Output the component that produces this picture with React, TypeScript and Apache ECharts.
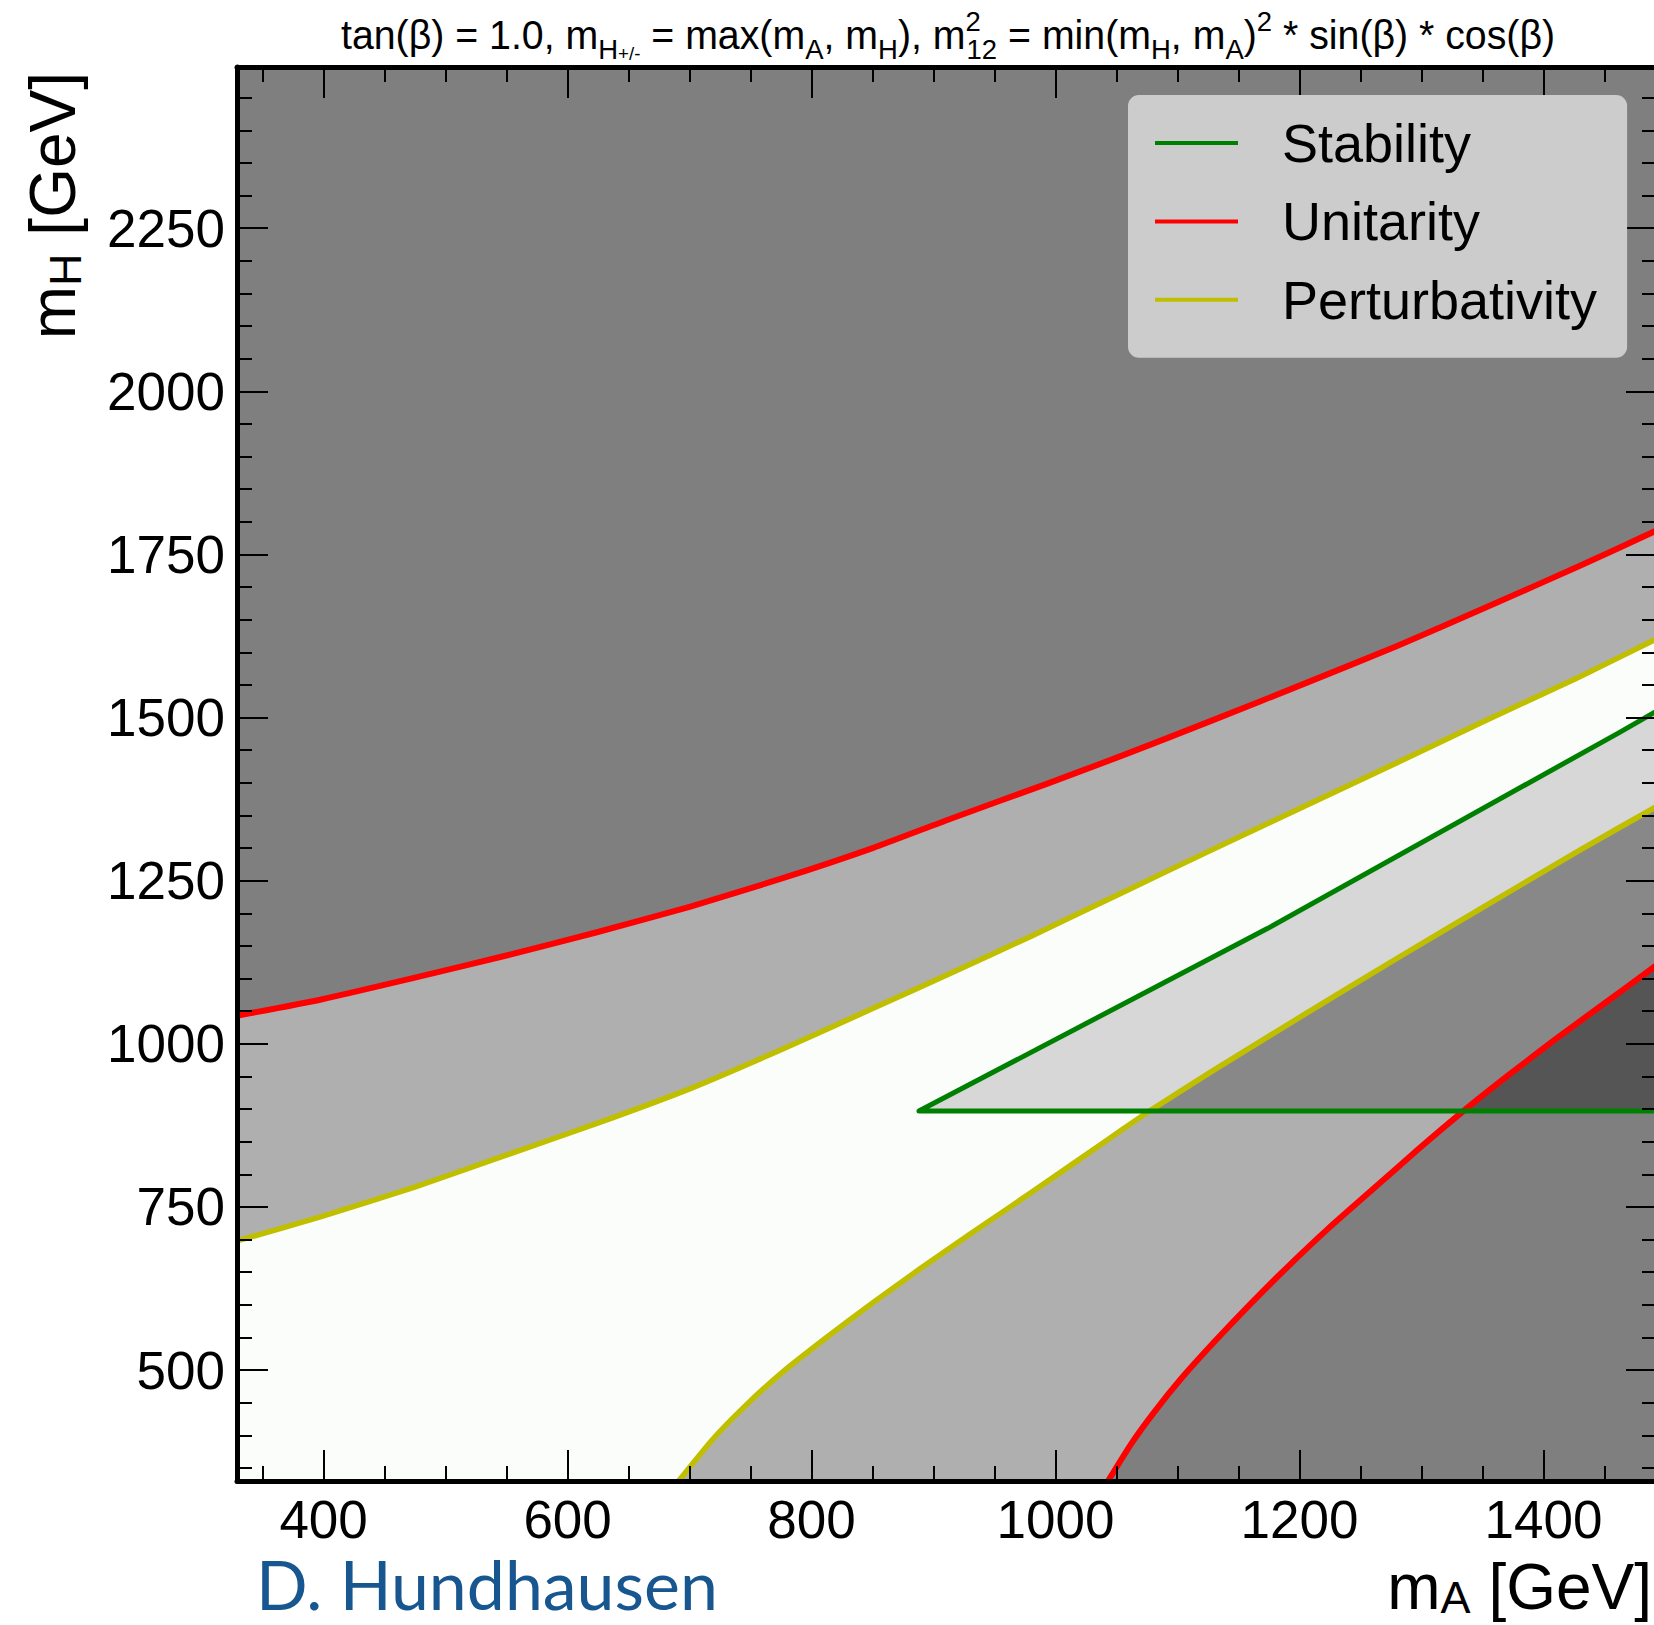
import React, { useEffect, useRef } from "react";
import * as echarts from "echarts";

// ---------------- axis ranges / ticks (GeV) ----------------
const X_MIN = 329;
const X_MAX = 1493;
const Y_MIN = 330;
const Y_MAX = 2497;

const xMajorTicks = [400, 600, 800, 1000, 1200, 1400];
const xMinorTicks = [350, 450, 500, 550, 650, 700, 750, 850, 900, 950, 1050, 1100, 1150, 1250, 1300, 1350, 1450];
const yMajorTicks = [500, 750, 1000, 1250, 1500, 1750, 2000, 2250];
const yMinorTicks = [
  350, 400, 450, 550, 600, 650, 700, 800, 850, 900, 950, 1050, 1100, 1150, 1200, 1300, 1350, 1400, 1450,
  1550, 1600, 1650, 1700, 1800, 1850, 1900, 1950, 2050, 2100, 2150, 2200, 2300, 2350, 2400, 2450,
];

// ---------------- constraint contours (m_A, m_H) ----------------
const unitarityUpperX = [329, 398, 474, 549, 624, 700, 775, 850, 914, 995, 1055, 1129, 1204, 1279, 1353, 1428, 1493];
const unitarityUpperY = [1043, 1068, 1101, 1135, 1171, 1210, 1253, 1300, 1345, 1400, 1442, 1496, 1552, 1609, 1669, 1731, 1787];

const unitarityLowerX = [1043, 1062, 1081, 1103, 1129, 1159, 1189, 1223, 1260, 1297, 1335, 1372, 1409, 1447, 1493];
const unitarityLowerY = [330, 387, 436, 487, 541, 600, 656, 716, 777, 838, 898, 953, 1006, 1058, 1121];

const perturbativityUpperX = [329, 398, 474, 549, 624, 700, 775, 850, 914, 980, 1055, 1129, 1204, 1279, 1353, 1428, 1493];
const perturbativityUpperY = [698, 735, 780, 829, 878, 931, 991, 1054, 1108, 1165, 1232, 1298, 1364, 1430, 1496, 1561, 1621];

const perturbativityLowerX = [691, 719, 745, 775, 813, 850, 888, 914, 943, 980, 1018, 1055, 1077, 1130, 1204, 1279, 1353, 1428, 1493];
const perturbativityLowerY = [330, 394, 444, 495, 551, 603, 654, 688, 725, 772, 821, 869, 897, 960, 1045, 1130, 1212, 1295, 1364];

// stability boundary: horizontal edge from the right, apex, then the diagonal
const stabilityX = [1493, 888, 1174, 1462, 1493];
const stabilityY = [897, 897, 1177, 1477, 1510];

const legendNames = ["Stability", "Unitarity", "Perturbativity"];

// ---------------- styling ----------------
const FONT = "'Liberation Sans', Arial, Helvetica, sans-serif";
const C_UNIT_EXCL = "#7f7f7f";
const C_PERT_EXCL = "#afafaf";
const C_ALLOWED = "#fbfdfb";
const C_STAB_ALL = "#555555";
const C_STAB_PERT = "#888888";
const C_STAB_ONLY = "#d7d7d7";
const RED = "#ff0000";
const YELLOW = "#bfbf00";
const GREEN = "#008000";

const zip = (xs: number[], ys: number[]) => xs.map((x, i) => [x, ys[i]]);

function clipPoly(subject: number[][], clip: number[][]): number[][] {
  let area = 0;
  for (let i = 0; i < clip.length; i++) {
    const a = clip[i];
    const b = clip[(i + 1) % clip.length];
    area += a[0] * b[1] - b[0] * a[1];
  }
  const s = area > 0 ? 1 : -1;
  let out = subject;
  for (let i = 0; i < clip.length; i++) {
    const a = clip[i];
    const b = clip[(i + 1) % clip.length];
    const side = (p: number[]) => s * ((b[0] - a[0]) * (p[1] - a[1]) - (b[1] - a[1]) * (p[0] - a[0]));
    const inp = out;
    out = [];
    if (!inp.length) break;
    for (let j = 0; j < inp.length; j++) {
      const cur = inp[j];
      const prev = inp[(j + inp.length - 1) % inp.length];
      const dc = side(cur);
      const dp = side(prev);
      const inter = () => {
        const t = dp / (dp - dc);
        return [prev[0] + t * (cur[0] - prev[0]), prev[1] + t * (cur[1] - prev[1])];
      };
      if (dc >= 0) {
        if (dp < 0) out.push(inter());
        out.push(cur);
      } else if (dp >= 0) {
        out.push(inter());
      }
    }
  }
  return out;
}

function dedupe(pts: number[][]) {
  const r: number[][] = [];
  pts.forEach((p) => {
    const l = r[r.length - 1];
    if (!l || Math.abs(l[0] - p[0]) > 0.01 || Math.abs(l[1] - p[1]) > 0.01) r.push(p);
  });
  return r;
}

function renderRegions(params: any, api: any) {
  const c = (p: number[]) => api.coord(p);
  const uUp = zip(unitarityUpperX, unitarityUpperY);
  const uLo = zip(unitarityLowerX, unitarityLowerY);
  const pUp = zip(perturbativityUpperX, perturbativityUpperY);
  const pLo = zip(perturbativityLowerX, perturbativityLowerY);
  const unitBand = [[X_MIN, Y_MIN], ...uUp, ...uLo.slice().reverse()].map(c);
  const pertBand = [[X_MIN, Y_MIN], ...pUp, ...pLo.slice().reverse()].map(c);
  const diag = zip(stabilityX, stabilityY).slice(1).map(c);
  const yh = c([X_MIN, stabilityY[0]])[1];
  const pieces: number[][][] = [];
  for (let i = 0; i < diag.length - 1; i++) {
    const a = diag[i];
    const b = diag[i + 1];
    const l = i === 0 ? 0 : 0.6;
    const r = i === diag.length - 2 ? 0 : 0.6;
    pieces.push(dedupe([[a[0] - l, yh], [a[0] - l, a[1]], [b[0] + r, b[1]], [b[0] + r, yh]]));
  }
  const children: any[] = [
    { type: "polygon", shape: { points: unitBand }, style: { fill: C_PERT_EXCL } },
    { type: "polygon", shape: { points: pertBand }, style: { fill: C_ALLOWED } },
  ];
  pieces.forEach((pc) => children.push({ type: "polygon", shape: { points: pc }, style: { fill: C_STAB_ALL } }));
  pieces.forEach((pc) => {
    const q = clipPoly(unitBand, pc);
    if (q.length > 2) children.push({ type: "polygon", shape: { points: q }, style: { fill: C_STAB_PERT } });
  });
  pieces.forEach((pc) => {
    const q = clipPoly(pertBand, pc);
    if (q.length > 2) children.push({ type: "polygon", shape: { points: q }, style: { fill: C_STAB_ONLY } });
  });
  return { type: "group", children };
}

const tickStyle = { color: "#000", width: 2 };

function makeAxis(position: string, min: number, max: number, values: number[], major: boolean, showLine: boolean, showLabel: boolean) {
  return {
    type: "value",
    position,
    min,
    max,
    z: 10,
    axisLine: { show: showLine, onZero: false, lineStyle: { color: "#000", width: 5 } },
    axisTick: { show: true, inside: true, length: major ? 31 : 15, lineStyle: tickStyle, customValues: values },
    axisLabel: {
      show: showLabel,
      customValues: values,
      formatter: (v: number) => String(Math.round(v)),
      fontSize: 53,
      lineHeight: 50,
      fontFamily: FONT,
      color: "#000",
      margin: position === "bottom" ? 13 : 12,
    },
    splitLine: { show: false },
    minorTick: { show: false },
  };
}

function lineSeries(name: string, xs: number[], ys: number[], color: string, width: number, smooth: number) {
  return {
    type: "line",
    name,
    data: zip(xs, ys),
    symbol: "none",
    showSymbol: false,
    silent: true,
    smooth,
    color,
    itemStyle: { color },
    lineStyle: { color, width, cap: "butt", join: "round" },
    z: 3,
    clip: true,
  };
}

const titleRich = {
  s: { fontSize: 28, fontFamily: FONT, lineHeight: 30, verticalAlign: "bottom", fill: "#000" },
  pm: { fontSize: 19, fontFamily: FONT, lineHeight: 42, verticalAlign: "bottom", fill: "#000" },
  sp: { fontSize: 28, fontFamily: FONT, lineHeight: 32, verticalAlign: "top", width: 1, align: "left", fill: "#000" },
  p: { fontSize: 28, fontFamily: FONT, lineHeight: 32, verticalAlign: "top", fill: "#000" },
};

const labelRich = {
  s: { fontSize: 45, fontFamily: FONT, lineHeight: 50, verticalAlign: "bottom", fill: "#000" },
};

const option: any = {
  animation: false,
  backgroundColor: "#ffffff",
  grid: {
    left: 237,
    top: 67,
    width: 1420,
    height: 1414,
    show: true,
    backgroundColor: C_UNIT_EXCL,
    borderWidth: 0,
    containLabel: false,
    outerBoundsMode: "none",
  },
  xAxis: [
    makeAxis("bottom", X_MIN, X_MAX, xMajorTicks, true, true, true),
    makeAxis("bottom", X_MIN, X_MAX, xMinorTicks, false, false, false),
    makeAxis("top", X_MIN, X_MAX, xMajorTicks, true, true, false),
    makeAxis("top", X_MIN, X_MAX, xMinorTicks, false, false, false),
  ],
  yAxis: [
    makeAxis("left", Y_MIN, Y_MAX, yMajorTicks, true, true, true),
    makeAxis("left", Y_MIN, Y_MAX, yMinorTicks, false, false, false),
    makeAxis("right", Y_MIN, Y_MAX, yMajorTicks, true, true, false),
    makeAxis("right", Y_MIN, Y_MAX, yMinorTicks, false, false, false),
  ],
  legend: {
    data: legendNames,
    orient: "vertical",
    left: 1128,
    top: 95,
    padding: [18, 30, 28, 27],
    itemWidth: 83,
    itemHeight: 4,
    itemGap: 18.4,
    icon: "rect",
    backgroundColor: "#cccccc",
    borderRadius: 11,
    borderWidth: 0,
    selectedMode: false,
    z: 20,
    textStyle: { fontFamily: FONT, fontSize: 54, color: "#000", lineHeight: 60, padding: [0, 0, 0, 39] },
  },
  graphic: {
    elements: [
      {
        type: "text",
        x: 341,
        y: 7,
        scaleX: 0.982,
        z: 30,
        style: {
          text:
            "tan(β) = 1.0, m{s|H}{pm|+/-} = max(m{s|A}, m{s|H}), m{sp|2}{s|12} = min(m{s|H}, m{s|A}){p|2} * sin(β) * cos(β)",
          fontFamily: FONT,
          fontSize: 40,
          lineHeight: 56,
          fill: "#000",
          align: "left",
          verticalAlign: "top",
          rich: titleRich,
        },
      },
      {
        type: "text",
        x: 53,
        y: 72,
        rotation: Math.PI / 2,
        z: 30,
        style: {
          text: "m{s|H} [GeV]",
          fontFamily: FONT,
          fontSize: 64,
          lineHeight: 70,
          fill: "#000",
          align: "right",
          verticalAlign: "middle",
          rich: labelRich,
        },
      },
      {
        type: "text",
        x: 1652,
        y: 1587,
        z: 30,
        style: {
          text: "m{s|A} [GeV]",
          fontFamily: FONT,
          fontSize: 64,
          lineHeight: 66,
          fill: "#000",
          align: "right",
          verticalAlign: "middle",
          rich: labelRich,
        },
      },
      {
        type: "text",
        x: 256,
        y: 1583,
        z: 30,
        style: {
          text: "D. Hundhausen",
          fontFamily: "Lato, 'Open Sans', sans-serif",
          fontSize: 68,
          lineHeight: 50,
          fill: "#17568f",
          align: "left",
          verticalAlign: "middle",
        },
      },
    ],
  },
  series: [
    {
      type: "custom",
      name: "regions",
      data: [[X_MIN, Y_MIN]],
      renderItem: renderRegions,
      clip: true,
      silent: true,
      z: 1,
    },
    lineSeries("Perturbativity", perturbativityUpperX, perturbativityUpperY, YELLOW, 5.5, 0.2),
    lineSeries("Perturbativity", perturbativityLowerX, perturbativityLowerY, YELLOW, 5.5, 0.2),
    lineSeries("Unitarity", unitarityUpperX, unitarityUpperY, RED, 6, 0.2),
    lineSeries("Unitarity", unitarityLowerX, unitarityLowerY, RED, 6, 0.2),
    lineSeries("Stability", stabilityX, stabilityY, GREEN, 5, 0),
  ],
};

export default function App() {
  const ref = useRef<HTMLDivElement>(null);
  useEffect(() => {
    if (!ref.current) return;
    const chart = echarts.init(ref.current, undefined, { renderer: "svg" });
    chart.setOption(option);
    return () => chart.dispose();
  }, []);
  return (
    <div
      ref={ref}
      style={{ position: "absolute", left: 0, top: 0, width: 1654, height: 1625, background: "#ffffff" }}
    />
  );
}
